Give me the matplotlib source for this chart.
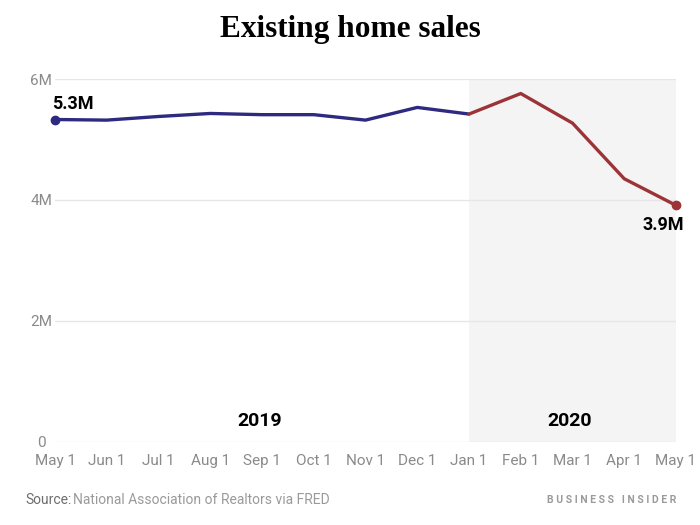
import matplotlib
matplotlib.use('Agg')
import matplotlib.pyplot as plt

months = ['May 1', 'Jun 1', 'Jul 1', 'Aug 1', 'Sep 1', 'Oct 1', 'Nov 1',
          'Dec 1', 'Jan 1', 'Feb 1', 'Mar 1', 'Apr 1', 'May 1']
sales = [5.33, 5.32, 5.38, 5.43, 5.41, 5.41, 5.32, 5.53, 5.42, 5.76, 5.27, 4.35, 3.91]
y_ticks = [0, 2, 4, 6]
y_tick_labels = ['0', '2M', '4M', '6M']
split = 8  # index of Jan 1 2020

BLUE = '#2d2a80'
RED = '#9c3337'

plt.rcParams['font.family'] = ['Roboto', 'DejaVu Sans']
fig = plt.figure(figsize=(7, 5.25), dpi=100)
ax = fig.add_axes([0.0786, 0.1587, 0.8871, 0.6908])

x = list(range(len(months)))
ax.axvspan(split, x[-1], ymin=0, ymax=1.0, color='#f4f4f4', zorder=0, lw=0)
for t in y_ticks:
    ax.axhline(t, color='#e6e6e6', lw=1, zorder=1)

ax.plot(x[:split + 1], sales[:split + 1], color=BLUE, lw=2.4, zorder=3,
        solid_capstyle='round', solid_joinstyle='round', clip_on=False)
ax.plot(x[split:], sales[split:], color=RED, lw=2.4, zorder=3,
        solid_capstyle='round', solid_joinstyle='round', clip_on=False)
ax.plot(x[0], sales[0], 'o', color=BLUE, ms=6, zorder=4, clip_on=False)
ax.plot(x[-1], sales[-1], 'o', color=RED, ms=6, zorder=4, clip_on=False)

ax.annotate('%.1fM' % sales[0], (x[0], sales[0]), xytext=(-2, 5),
            textcoords='offset points', ha='left', va='bottom',
            fontsize=13, fontweight='bold', color='black')
ax.annotate('%.1fM' % sales[-1], (x[-1], sales[-1]), xytext=(6, -8),
            textcoords='offset points', ha='right', va='top',
            fontsize=13, fontweight='bold', color='black')

ax.text(3.95, 0.34, '2019', ha='center', va='center', fontsize=14, fontweight='bold')
ax.text(9.95, 0.34, '2020', ha='center', va='center', fontsize=14, fontweight='bold')

ax.set_xlim(x[0], x[-1])
ax.set_ylim(0, 6)
ax.set_xticks(x)
ax.set_xticklabels(months, fontsize=11, color='#8a8a8a')
ax.set_yticks(y_ticks)
ax.set_yticklabels(y_tick_labels, fontsize=11, color='#8a8a8a')
ax.tick_params(axis='both', length=0)
ax.tick_params(axis='x', pad=9)
ax.tick_params(axis='y', pad=10)
for lab in ax.get_yticklabels():
    lab.set_horizontalalignment('center')
for s in ax.spines.values():
    s.set_visible(False)

fig.text(0.5, 0.943, 'Existing home sales', ha='center', va='center',
         fontsize=22.5, fontweight='bold', family='Liberation Serif')
fig.text(0.036, 0.048, 'Source:', ha='left', va='center', fontsize=10, color='#6e6e6e')
fig.text(0.104, 0.048, 'National Association of Realtors via FRED', ha='left',
         va='center', fontsize=10, color='#9a9a9a')
fig.text(0.966, 0.048, 'B U S I N E S S   I N S I D E R', ha='right', va='center',
         fontsize=7.5, color='#9a9a9a', fontweight='bold')

fig.savefig('out.png', dpi=100)
